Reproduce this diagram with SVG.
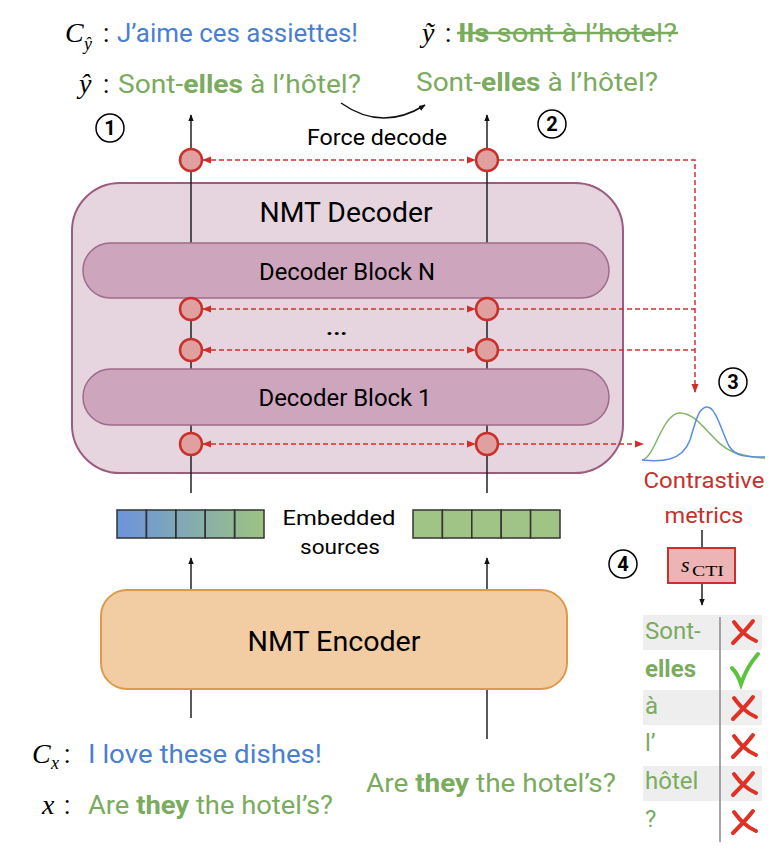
<svg xmlns="http://www.w3.org/2000/svg" width="784" height="850" viewBox="0 0 784 850">
<style>
text{font-family:Roboto,"Liberation Sans",sans-serif;}
.math{font-family:"Liberation Serif","DejaVu Serif",serif;font-style:italic;fill:#000;}
.serif{font-family:"Liberation Serif","DejaVu Serif",serif;fill:#000;}
.green{fill:#7aab5e;}
.blue{fill:#4a7fd0;}
.b{font-weight:bold;}
.vline{stroke:#222;stroke-width:1.5;fill:none;}
.dash{stroke:#d0302c;stroke-width:1.5;stroke-dasharray:5 3;fill:none;}
.probe{fill:#e0a0a0;stroke:#c8302c;stroke-width:2.5;}
.cell{stroke:#333;stroke-width:1.5;}
.num{fill:none;stroke:#000;stroke-width:1.5;}
.numt{font-weight:bold;font-size:20px;text-anchor:middle;}
.cross{stroke:#e03224;stroke-width:4;stroke-linecap:round;fill:none;}
</style>
<defs>
<marker id="ab" viewBox="0 0 10 10" refX="9" refY="5" markerWidth="7" markerHeight="7" orient="auto-start-reverse" markerUnits="userSpaceOnUse"><path d="M0,1 L10,5 L0,9 z" fill="#111"/></marker>
<marker id="ar" viewBox="0 0 10 10" refX="9" refY="5" markerWidth="9" markerHeight="9" orient="auto-start-reverse" markerUnits="userSpaceOnUse"><path d="M0,1 L10,5 L0,9 z" fill="#d0302c"/></marker>
<linearGradient id="emb" x1="0" y1="0" x2="1" y2="0"><stop offset="0" stop-color="#6b94dc"/><stop offset="1" stop-color="#9dc383"/></linearGradient>
</defs>

<g id="ctx-target">
<text class="math" x="65" y="42" font-size="28">C</text>
<text class="math" x="84" y="50" font-size="18">ŷ</text>
<text x="103" y="42" font-size="26">:</text>
<text class="blue" x="117" y="42" font-size="26" textLength="241" lengthAdjust="spacingAndGlyphs">J’aime ces assiettes!</text>
</g>
<g id="yhat">
<text class="math" x="79" y="93" font-size="28">ŷ</text>
<text x="103" y="93" font-size="26">:</text>
<text class="green" x="118" y="93" font-size="26" textLength="243" lengthAdjust="spacingAndGlyphs">Sont-<tspan class="b">elles</tspan> à l’hôtel?</text>
</g>
<g id="ytilde">
<text class="math" x="422" y="42" font-size="28">ỹ</text>
<text x="445" y="42" font-size="26">:</text>
<text class="green" x="458" y="42" font-size="26" textLength="219" lengthAdjust="spacingAndGlyphs"><tspan class="b">Ils</tspan> sont à l’hotel?</text>
<line x1="457" y1="33" x2="678" y2="33" stroke="#7aab5e" stroke-width="2.5"/>
</g>
<g id="forced">
<text class="green" x="416" y="91" font-size="26" textLength="242" lengthAdjust="spacingAndGlyphs">Sont-<tspan class="b">elles</tspan> à l’hôtel?</text>
</g>

<g id="n1"><circle class="num" cx="110" cy="128" r="14"/><text class="numt" x="110" y="135">1</text></g>
<g id="n2"><circle class="num" cx="552" cy="124" r="14"/><text class="numt" x="552" y="131">2</text></g>
<g id="n3"><circle class="num" cx="733" cy="382" r="14"/><text class="numt" x="733" y="389">3</text></g>
<g id="n4"><circle class="num" cx="623" cy="564" r="14"/><text class="numt" x="623" y="571">4</text></g>

<g id="force-decode-label">
<text x="377" y="145" font-size="22" text-anchor="middle" textLength="140" lengthAdjust="spacingAndGlyphs">Force decode</text>
</g>

<g id="decoder">
<rect x="72" y="183" width="551" height="290" rx="48" fill="#e6d4df" stroke="#9c5c80" stroke-width="2"/>
<text x="346" y="222" font-size="28" text-anchor="middle" textLength="173" lengthAdjust="spacingAndGlyphs">NMT Decoder</text>
</g>

<g id="connectors">
<line class="vline" x1="191" y1="493" x2="191" y2="115" marker-end="url(#ab)"/>
<line class="vline" x1="487" y1="493" x2="487" y2="115" marker-end="url(#ab)"/>
<line class="vline" x1="191" y1="590" x2="191" y2="558" marker-end="url(#ab)"/>
<line class="vline" x1="487" y1="590" x2="487" y2="558" marker-end="url(#ab)"/>
<line class="vline" x1="191" y1="689" x2="191" y2="718"/>
<line class="vline" x1="487" y1="689" x2="487" y2="739"/>
<path d="M341,103 Q382,132 425,105" stroke="#111" stroke-width="1.5" fill="none" marker-end="url(#ab)"/>
<line class="vline" x1="702" y1="530" x2="702" y2="548"/>
<line class="vline" x1="702" y1="583" x2="702" y2="605" marker-end="url(#ab)"/>
</g>

<g id="block-N">
<rect x="83" y="243" width="526" height="55" rx="27.5" fill="#cda5bd" stroke="#a06b8b" stroke-width="1.5"/>
<text x="347" y="280" font-size="24" text-anchor="middle" textLength="176" lengthAdjust="spacingAndGlyphs">Decoder Block N</text>
</g>
<g id="block-1">
<rect x="83" y="369" width="526" height="56" rx="28" fill="#cda5bd" stroke="#a06b8b" stroke-width="1.5"/>
<text x="345" y="406" font-size="24" text-anchor="middle" textLength="173" lengthAdjust="spacingAndGlyphs">Decoder Block 1</text>
</g>
<g id="ellipsis"><text x="325" y="335" font-size="28" textLength="23" lengthAdjust="spacingAndGlyphs">…</text></g>

<g id="dashed-connectors">
<line class="dash" x1="203" y1="160" x2="475" y2="160" marker-start="url(#ar)" marker-end="url(#ar)"/>
<line class="dash" x1="203" y1="309" x2="475" y2="309" marker-start="url(#ar)" marker-end="url(#ar)"/>
<line class="dash" x1="203" y1="350" x2="475" y2="350" marker-start="url(#ar)" marker-end="url(#ar)"/>
<line class="dash" x1="203" y1="444" x2="475" y2="444" marker-start="url(#ar)" marker-end="url(#ar)"/>
<path class="dash" d="M499,160 H695 V392" marker-end="url(#ar)"/>
<path class="dash" d="M499,309 H695"/>
<path class="dash" d="M499,350 H695"/>
<line class="dash" x1="499" y1="444" x2="643" y2="444" marker-end="url(#ar)"/>
</g>

<g id="probes">
<circle class="probe" cx="191" cy="160" r="11"/><circle class="probe" cx="487" cy="160" r="11"/>
<circle class="probe" cx="191" cy="309" r="11"/><circle class="probe" cx="487" cy="309" r="11"/>
<circle class="probe" cx="191" cy="350" r="11"/><circle class="probe" cx="487" cy="350" r="11"/>
<circle class="probe" cx="191" cy="444" r="11"/><circle class="probe" cx="487" cy="444" r="11"/>
</g>

<g id="emb-left">
<rect x="117" y="510" width="147" height="28" fill="url(#emb)"/>
<rect class="cell" x="117" y="510" width="29.4" height="28" fill="none"/>
<rect class="cell" x="146.4" y="510" width="29.4" height="28" fill="none"/>
<rect class="cell" x="175.8" y="510" width="29.4" height="28" fill="none"/>
<rect class="cell" x="205.2" y="510" width="29.4" height="28" fill="none"/>
<rect class="cell" x="234.6" y="510" width="29.4" height="28" fill="none"/>
</g>
<g id="emb-right">
<rect class="cell" x="413" y="510" width="29.4" height="28" fill="#9fc485"/>
<rect class="cell" x="442.4" y="510" width="29.4" height="28" fill="#9fc485"/>
<rect class="cell" x="471.8" y="510" width="29.4" height="28" fill="#9fc485"/>
<rect class="cell" x="501.2" y="510" width="29.4" height="28" fill="#9fc485"/>
<rect class="cell" x="530.6" y="510" width="29.4" height="28" fill="#9fc485"/>
</g>
<g id="emb-label">
<text x="339" y="525" font-size="21" text-anchor="middle" textLength="113" lengthAdjust="spacingAndGlyphs">Embedded</text>
<text x="340" y="554" font-size="21" text-anchor="middle" textLength="80" lengthAdjust="spacingAndGlyphs">sources</text>
</g>

<g id="encoder">
<rect x="101" y="590" width="466" height="99" rx="26" fill="#f2cca2" stroke="#dd9a4c" stroke-width="2"/>
<text x="334" y="651" font-size="28" text-anchor="middle" textLength="173" lengthAdjust="spacingAndGlyphs">NMT Encoder</text>
</g>

<g id="ctx-source">
<text class="math" x="32" y="763" font-size="28">C</text>
<text class="math" x="51" y="769" font-size="18">x</text>
<text x="64" y="763" font-size="26">:</text>
<text class="blue" x="88" y="763" font-size="26" textLength="234" lengthAdjust="spacingAndGlyphs">I love these dishes!</text>
</g>
<g id="x-source">
<text class="math" x="42" y="814" font-size="28">x</text>
<text x="64" y="814" font-size="26">:</text>
<text class="green" x="88" y="814" font-size="26" textLength="245" lengthAdjust="spacingAndGlyphs">Are <tspan class="b">they</tspan> the hotel’s?</text>
</g>
<g id="x-source-2">
<text class="green" x="366" y="792" font-size="26" textLength="250" lengthAdjust="spacingAndGlyphs">Are <tspan class="b">they</tspan> the hotel’s?</text>
</g>

<g id="contrastive">
<path d="M642,460 C655,458 662,413 680,413 C700,413 712,444 733,452 C748,457 758,458 765,458" stroke="#82b366" stroke-width="1.5" fill="none"/>
<path d="M642,460 C660,462 682,462 690,440 C696,420 699,407 707,407 C716,407 721,430 729,446 C736,457 745,457 765,457" stroke="#5a8ee0" stroke-width="1.5" fill="none"/>
<text x="704" y="488" font-size="22" fill="#c8302c" text-anchor="middle" textLength="121" lengthAdjust="spacingAndGlyphs">Contrastive</text>
<text x="704" y="523" font-size="22" fill="#c8302c" text-anchor="middle" textLength="79" lengthAdjust="spacingAndGlyphs">metrics</text>
</g>

<g id="scti">
<rect x="668" y="548" width="67" height="35" fill="#ecb4b4" stroke="#c8302c" stroke-width="2"/>
<text class="math" x="681" y="572" font-size="22">s</text>
<text class="serif" x="692" y="576" font-size="14" textLength="32" lengthAdjust="spacingAndGlyphs">CTI</text>
</g>

<g id="table">
<rect x="643" y="615" width="119" height="35" fill="#eeeeee"/>
<rect x="643" y="690" width="119" height="35" fill="#eeeeee"/>
<rect x="643" y="766" width="119" height="35" fill="#eeeeee"/>
<line x1="720" y1="617" x2="720" y2="842" stroke="#888" stroke-width="1.5"/>
<text class="green" x="645" y="639" font-size="24">Sont-</text>
<text class="green b" x="645" y="677" font-size="24">elles</text>
<text class="green" x="645" y="714" font-size="24">à</text>
<text class="green" x="645" y="751" font-size="24">l’</text>
<text class="green" x="645" y="789" font-size="24">hôtel</text>
<text class="green" x="645" y="827" font-size="24">?</text>
<g class="cross"><path d="M734,622 C740,630 745,636 756,641"/><path d="M753,621 C747,629 740,636 733,643"/></g>
<g class="cross"><path d="M734,698 C740,706 745,712 756,717"/><path d="M753,697 C747,705 740,712 733,719"/></g>
<g class="cross"><path d="M734,736 C740,744 745,750 756,755"/><path d="M753,735 C747,743 740,750 733,757"/></g>
<g class="cross"><path d="M734,774 C740,782 745,788 756,793"/><path d="M753,773 C747,781 740,788 733,795"/></g>
<g class="cross"><path d="M734,812 C740,820 745,826 756,831"/><path d="M753,811 C747,819 740,826 733,833"/></g>
<path d="M732,668 C736,672 739,678 741,684 C745,672 751,662 758,654" stroke="#5cc43c" stroke-width="4" stroke-linecap="round" fill="none"/>
</g>
</svg>
